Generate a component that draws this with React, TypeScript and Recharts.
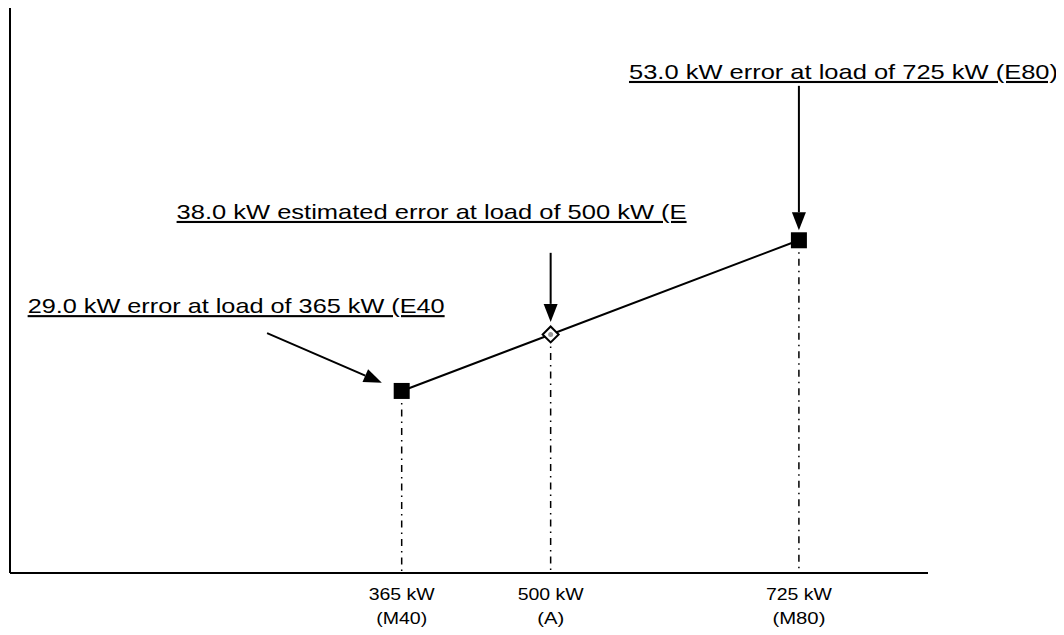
import * as React from 'react';
import { LineChart, Line, XAxis, YAxis, ReferenceLine, ReferenceDot } from 'recharts';

// load (kW) and error (kW) for the three operating points
const loads = [365, 500, 725];
const errors = [29.0, 38.0, 53.0];
const pointKind = ['measured', 'estimated', 'measured'];
const tickLabels = ['365 kW', '500 kW', '725 kW'];
const tickSubLabels = ['(M40)', '(A)', '(M80)'];
const tickSubWidths = [51, 27, 53];

// annotation texts, anchored in data space (load, error)
const noteTexts = [
    '29.0 kW error at load of 365 kW (E40',
    '38.0 kW estimated error at load of 500 kW (E',
    '53.0 kW error at load of 725 kW (E80)',
];
const noteLoads = [26, 161, 571];
const noteErrors = [41.4, 56.4, 78.7];
const noteWidths = [417, 510, 429];

// arrows from note to point, in data space
const arrowFromLoad = [243, 500, 725];
const arrowFromError = [38.2, 51.0, 77.6];
const arrowToLoad = [347, 500, 725];
const arrowToError = [30.3, 40.0, 54.6];

const data = loads.map((load, i) => ({ load, error: errors[i], kind: pointKind[i] }));

const FONT = '"Liberation Sans", Arial, sans-serif';

const PointDot = (props: any) => {
    const { cx, cy, payload } = props;
    if (cx == null || cy == null) return null;
    if (payload.kind === 'estimated') {
        return (
            <g>
                <polygon
                    points={`${cx},${cy - 8} ${cx + 8},${cy} ${cx},${cy + 8} ${cx - 8},${cy}`}
                    fill="#fff" stroke="#000" strokeWidth={2}
                />
                <circle cx={cx} cy={cy} r={2.5} fill="#999" />
            </g>
        );
    }
    return <rect x={cx - 8} y={cy - 8} width={16} height={16} fill="#000" />;
};

const TwoLineTick = (props: any) => {
    const { x, y, index } = props;
    return (
        <g fontFamily={FONT} fontSize={16} fill="#000" textAnchor="middle">
            <text x={x} y={y + 19} textLength={66} lengthAdjust="spacingAndGlyphs">{tickLabels[index]}</text>
            <text x={x} y={y + 43} textLength={tickSubWidths[index]} lengthAdjust="spacingAndGlyphs">
                {tickSubLabels[index]}
            </text>
        </g>
    );
};

const ArrowShape = (props: any) => {
    const { x1, y1, x2, y2 } = props;
    if (x1 == null) return null;
    const ang = Math.atan2(y2 - y1, x2 - x1);
    const len = 18;
    const half = 7;
    const bx = x2 - len * Math.cos(ang);
    const by = y2 - len * Math.sin(ang);
    const px = -Math.sin(ang) * half;
    const py = Math.cos(ang) * half;
    return (
        <g>
            <line x1={x1} y1={y1} x2={bx} y2={by} stroke="#000" strokeWidth={2} />
            <polygon points={`${x2},${y2} ${bx + px},${by + py} ${bx - px},${by - py}`} fill="#000" />
        </g>
    );
};

export default function App() {
    return (
        <div style={{ width: 1064, height: 635, margin: -8 }}>
            <LineChart
                width={1064}
                height={635}
                data={data}
                margin={{ top: 8, right: 136, bottom: 0, left: 9 }}
            >
                <XAxis
                    dataKey="load"
                    type="number"
                    domain={[10, 842]}
                    ticks={loads}
                    tickLine={false}
                    axisLine={{ stroke: '#000', strokeWidth: 2 }}
                    tick={<TwoLineTick />}
                    height={62}
                    interval={0}
                />
                <YAxis
                    type="number"
                    domain={[0, 90]}
                    width={1}
                    tick={false}
                    tickLine={false}
                    axisLine={{ stroke: '#000', strokeWidth: 2 }}
                />
                {data.map((d) => (
                    <ReferenceLine
                        key={'drop' + d.load}
                        segment={[{ x: d.load, y: d.error }, { x: d.load, y: 0 }]}
                        stroke="#000"
                        strokeWidth={1.5}
                        strokeDasharray="7 5 1.5 5"
                    />
                ))}
                <Line
                    type="linear"
                    dataKey="error"
                    stroke="#000"
                    strokeWidth={2}
                    dot={<PointDot />}
                    activeDot={false}
                    isAnimationActive={false}
                />
                {arrowFromLoad.map((x, i) => (
                    <ReferenceLine
                        key={'arrow' + i}
                        segment={[{ x, y: arrowFromError[i] }, { x: arrowToLoad[i], y: arrowToError[i] }]}
                        shape={<ArrowShape />}
                    />
                ))}
                {noteTexts.map((t, i) => (
                    <ReferenceDot
                        key={'note' + i}
                        x={noteLoads[i]}
                        y={noteErrors[i]}
                        r={0}
                        shape={(p: any) => (
                            <text
                                x={p.cx}
                                y={p.cy}
                                fontFamily={FONT}
                                fontSize={21}
                                fill="#000"
                                textDecoration="underline"
                                textLength={noteWidths[i]}
                                lengthAdjust="spacingAndGlyphs"
                            >
                                {t}
                            </text>
                        )}
                    />
                ))}
            </LineChart>
        </div>
    );
}
